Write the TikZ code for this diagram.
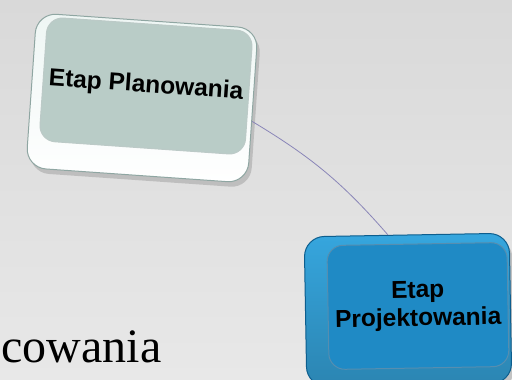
\documentclass[tikz,border=0pt]{standalone}
\usepackage{fontspec}
\setmainfont{Liberation Serif}
\setsansfont{Liberation Sans}
\usetikzlibrary{positioning, shadows}

\definecolor{bgtop}{HTML}{D9D9D9}
\definecolor{bgbot}{HTML}{E8E8E8}
\definecolor{planrim}{HTML}{EEF6F4}
\definecolor{planedge}{HTML}{8FA6A2}
\definecolor{planface}{HTML}{B9CCC7}
\definecolor{projrim}{HTML}{36A6DE}
\definecolor{projedge}{HTML}{0D5E8E}
\definecolor{projface}{HTML}{1F8AC5}
\definecolor{linkcol}{HTML}{8A86B8}

\begin{document}
\begin{tikzpicture}[
    x=1pt, y=-1pt,
    shell/.style={
        rectangle,
        rounded corners=20pt,
        inner sep=0pt,
        line width=1pt,
        drop shadow={shadow xshift=3pt, shadow yshift=-5pt, opacity=.35}
    },
    face/.style={
        rectangle,
        rounded corners=16pt,
        inner sep=0pt,
        line width=1pt,
        align=center,
        font=\sffamily\bfseries\fontsize{24.5}{28}\selectfont
    },
    edge/.style={draw=linkcol, line width=0.8pt}
]

\fill[top color=bgtop, bottom color=bgbot] (0,0) rectangle (512,380);
\clip (0,0) rectangle (512,380);

% planning box
\node[shell, rotate=-4, minimum width=222pt, minimum height=155pt,
      top color=planrim, bottom color=white, draw=planedge] (plan) at (142,98) {};
\node[face, rotate=-4, minimum width=206pt, minimum height=124pt,
      fill=planface, draw=planedge!60] (plantop) at (146,86) {Etap Planowania};

% design box
\node[shell, rotate=1, minimum width=205pt, minimum height=150pt,
      top color=projrim, bottom color=projrim!80!black, draw=projedge] (proj) at (408,310) {};
\node[face, rotate=1, minimum width=180pt, minimum height=124pt,
      fill=projface, draw=projedge!70] (projtop) at (418,306) {Etap\\Projektowania};

\draw[edge] (plan.-8) to[out=-31, in=131] (proj.104);

\node[anchor=base west, font=\fontsize{48}{48}\selectfont] (title) at (-2,362) {cowania};

\end{tikzpicture}
\end{document}
